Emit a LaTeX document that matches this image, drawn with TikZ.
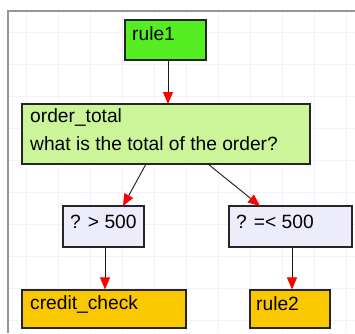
\documentclass[tikz,border=0pt]{standalone}
\usepackage{fontspec}
\setmainfont{Liberation Sans}
\usetikzlibrary{arrows.meta}
\definecolor{gridc}{RGB}{242,242,253}
\definecolor{framec}{RGB}{150,150,150}
\definecolor{startc}{RGB}{85,238,34}
\definecolor{qc}{RGB}{204,245,154}
\definecolor{condc}{RGB}{236,236,250}
\definecolor{endc}{RGB}{250,200,0}
\tikzset{
  box/.style={draw=black!85, line width=1.2pt, rectangle, inner sep=0pt},
  lbl/.style={anchor=west, inner sep=0pt, font=\fontsize{19.2}{22}\selectfont},
  conn/.style={black!90, line width=0.9pt, -{Triangle[red, fill=red, length=12pt, width=10pt]}},
}
\begin{document}
\begin{tikzpicture}[x=1pt,y=-1pt]
\useasboundingbox (0,0) rectangle (355,333);
\fill[white] (0,0) rectangle (355,333);
\begin{scope}
\clip (8,11) rectangle (355,333);
\foreach \x in {26,58,...,354} \draw[gridc, line width=0.8pt] (\x,11) -- (\x,333);
\foreach \y in {32,64,...,332} \draw[gridc, line width=0.8pt] (8,\y) -- (355,\y);
\end{scope}
\draw[framec, line width=1.5pt] (8,333) -- (8,11) -- (355,11);

\node[box, fill=startc, minimum width=81pt, minimum height=40pt] (rule1) at (165.5,40) {};
\node[lbl] (t1) at (132,34) {rule1};

\node[box, fill=qc, minimum width=288pt, minimum height=60pt] (ot) at (166,134) {};
\node[lbl] (t2) at (30,117) {order\_total};
\node[lbl] (t3) at (30,144) {what is the total of the order?};

\node[box, fill=condc, minimum width=81pt, minimum height=41pt] (c1) at (103.5,226.5) {};
\node[lbl] (t4) at (70,222) {? > 500};

\node[box, fill=condc, minimum width=123pt, minimum height=41pt] (c2) at (290.5,226.5) {};
\node[lbl] (t5) at (236,222) {? =< 500};

\node[box, fill=endc, minimum width=164pt, minimum height=38pt] (cc) at (104,309) {};
\node[lbl] (t6) at (30,304) {credit\_check};

\node[box, fill=endc, minimum width=80pt, minimum height=38pt] (r2) at (290,309) {};
\node[lbl] (t7) at (256,304) {rule2};

\coordinate (a0) at (168,60);
\coordinate (a1) at (168,104);
\draw[conn] (a0) -- (a1);
\coordinate (b0) at (146,164);
\coordinate (b1) at (123,206);
\draw[conn] (b0) -- (b1);
\coordinate (d0) at (208,164);
\coordinate (d1) at (260,206);
\draw[conn] (d0) -- (d1);
\draw[conn] (c1.south -| 105,0) -- (cc.north -| 105,0);
\draw[conn] (c2.south -| 292,0) -- (r2.north -| 292,0);
\end{tikzpicture}
\end{document}
